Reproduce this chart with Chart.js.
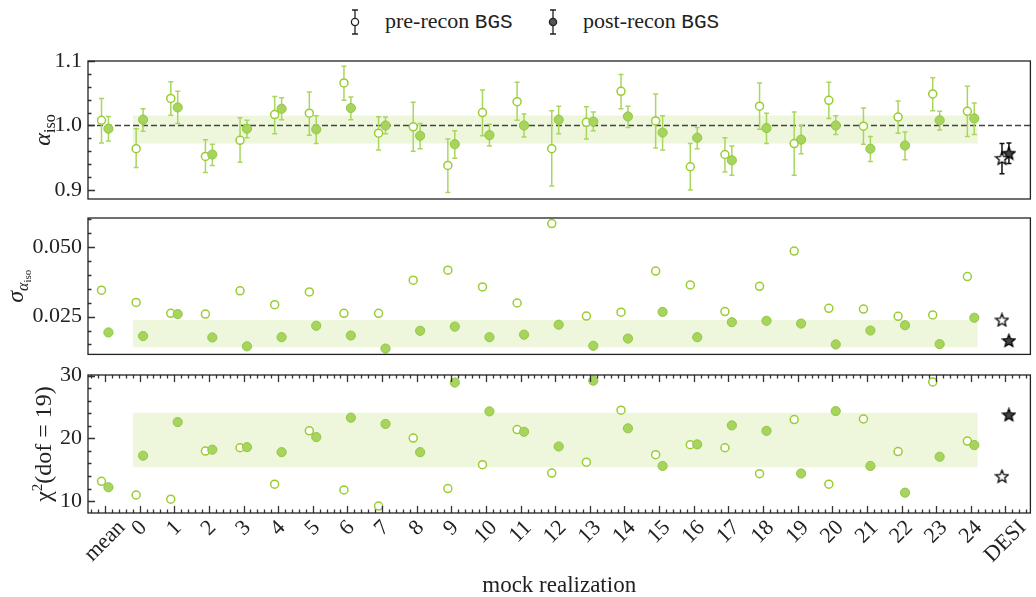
<!DOCTYPE html>
<html>
<head>
<meta charset="utf-8">
<script src="https://cdn.jsdelivr.net/npm/chart.js@4.4.1/dist/chart.umd.min.js"></script>
<style>
body { margin: 0; background: #fff; }
#wrap { position: relative; width: 1036px; height: 597px; overflow: hidden; font-family: "Liberation Serif", serif; color: #222; }
#wrap canvas { position: absolute; left: 0; }
.leg { position: absolute; top: 10px; font-size: 22px; line-height: 1; white-space: nowrap; }
.leg tt { font-family: "Liberation Mono", monospace; font-size: 21px; }
.legm { position: absolute; top: 8px; }
</style>
</head>
<body>
<div id="wrap">
  <svg class="legm" style="left:349px" width="12" height="28">
    <path d="M6 2V26M3 2H9M3 26H9" stroke="#222" stroke-width="1.3" fill="none"/>
    <circle cx="6" cy="14" r="3.6" fill="#fff" stroke="#222" stroke-width="1.3"/>
  </svg>
  <span class="leg" style="left:385px">pre-recon <tt>BGS</tt></span>
  <svg class="legm" style="left:547px" width="12" height="28">
    <path d="M6 2V26M3 2H9M3 26H9" stroke="#222" stroke-width="1.3" fill="none"/>
    <circle cx="6" cy="14" r="3.6" fill="#555" stroke="#222" stroke-width="1.3"/>
  </svg>
  <span class="leg" style="left:583px">post-recon <tt>BGS</tt></span>

  <canvas id="c1" width="1036" height="205" style="top:0px"></canvas>
  <canvas id="c2" width="1036" height="155" style="top:205px"></canvas>
  <canvas id="c3" width="1036" height="237" style="top:360px"></canvas>
</div>

<script>
// categories: mean, 25 mocks, DESI
const cats = ["mean", "0", "1", "2", "3", "4", "5", "6", "7", "8", "9", "10", "11", "12",
    "13", "14", "15", "16", "17", "18", "19", "20", "21", "22", "23", "24", "DESI"];

// alpha_iso (last entry = DESI)
const preAlpha   = [1.008, 0.964, 1.042, 0.952, 0.977, 1.017, 1.019, 1.066, 0.988, 0.998, 0.938, 1.020, 1.037, 0.964,
    1.005, 1.053, 1.007, 0.936, 0.955, 1.030, 0.972, 1.039, 0.999, 1.013, 1.049, 1.022, 0.949];
const preAlphaHi = [1.042, 0.995, 1.068, 0.978, 1.012, 1.045, 1.052, 1.092, 1.0135, 1.036, 0.979, 1.055, 1.067, 1.023,
    1.029, 1.079, 1.049, 0.972, 0.981, 1.066, 1.021, 1.067, 1.027, 1.038, 1.074, 1.061, 0.972];
const preAlphaLo = [0.973, 0.935, 1.016, 0.927, 0.943, 0.987, 0.985, 1.039, 0.962, 0.960, 0.896, 0.984, 1.008, 0.906,
    0.979, 1.026, 0.965, 0.900, 0.928, 0.994, 0.923, 1.011, 0.971, 0.988, 1.023, 0.983, 0.925];

const postAlpha   = [0.995, 1.009, 1.028, 0.955, 0.995, 1.026, 0.994, 1.027, 1.000, 0.984, 0.971, 0.985, 1.000, 1.009,
    1.006, 1.014, 0.989, 0.981, 0.946, 0.996, 0.978, 1.000, 0.964, 0.969, 1.008, 1.011, 0.957];
const postAlphaHi = [1.014, 1.026, 1.053, 0.971, 1.008, 1.043, 1.015, 1.044, 1.013, 1.003, 0.992, 1.002, 1.018, 1.030,
    1.021, 1.030, 1.015, 0.997, 0.968, 1.019, 1.000, 1.015, 0.983, 0.990, 1.022, 1.035, 0.973];
const postAlphaLo = [0.976, 0.991, 1.003, 0.938, 0.981, 1.009, 0.972, 1.009, 0.987, 0.964, 0.949, 0.968, 0.982, 0.987,
    0.992, 0.997, 0.962, 0.964, 0.923, 0.972, 0.956, 0.986, 0.944, 0.947, 0.993, 0.986, 0.941];

// sigma_alpha_iso
const preSigma  = [0.0345, 0.0301, 0.0262, 0.0259, 0.0343, 0.0293, 0.0339, 0.0262, 0.0262, 0.0381, 0.0417, 0.0357, 0.0299,
    0.0585, 0.0252, 0.0266, 0.0414, 0.0364, 0.0268, 0.0359, 0.0486, 0.0280, 0.0277, 0.0251, 0.0256, 0.0394, 0.0238];
const postSigma = [0.0193, 0.0180, 0.0259, 0.0175, 0.0143, 0.0176, 0.0217, 0.0182, 0.0135, 0.0199, 0.0214, 0.0176, 0.0185,
    0.0221, 0.0145, 0.0171, 0.0267, 0.0176, 0.0230, 0.0235, 0.0225, 0.0150, 0.0200, 0.0219, 0.0151, 0.0246, 0.0164];

// chi2 (dof = 19)
const preChi2  = [13.15, 10.97, 10.3, 17.98, 18.5, 12.7, 21.2, 11.77, 9.2, 20.05, 12.0, 15.8, 21.4, 14.47,
    16.2, 24.5, 17.4, 19.0, 18.5, 14.36, 23.0, 12.7, 23.1, 17.9, 29.0, 19.57, 13.95];
const postChi2 = [12.2, 17.23, 22.6, 18.2, 18.6, 17.8, 20.2, 23.3, 22.3, 17.8, 28.9, 24.3, 21.05, 18.7,
    29.2, 21.6, 15.6, 19.04, 22.07, 21.2, 14.4, 24.35, 15.6, 11.34, 17.07, 18.93, 23.76];

// spread of the post-recon mocks (shaded band)
const alphaBand = [0.972, 1.0155];
const sigmaBand = [0.014, 0.0238];
const chi2Band  = [15.4, 24.1];

// axis ticks
const alphaTicks = [0.9, 1.0, 1.1];
const sigmaTicks = [0.025, 0.050];
const chi2Ticks  = [10, 20, 30];


const GREEN = "#9acd32";
const FILL = "#a6d45c";
const BAND = "rgba(154,205,50,0.17)";
const SERIF = "Liberation Serif";
const nMock = cats.length - 1;
const xMin = -0.49, xMax = 26.72;
const bandX = [0.8, 25.2];

function makeStar(fill) {
    const c = document.createElement("canvas");
    c.width = 15; c.height = 15;
    const g = c.getContext("2d");
    g.beginPath();
    for (let k = 0; k < 10; k++) {
        const r = k % 2 ? 2.9 : 6.6;
        const a = -Math.PI / 2 + k * Math.PI / 5;
        g.lineTo(7.5 + r * Math.cos(a), 8 + r * Math.sin(a));
    }
    g.closePath();
    g.fillStyle = fill;
    g.fill();
    g.lineWidth = 1.3;
    g.lineJoin = "miter";
    g.strokeStyle = "#000";
    g.stroke();
    return c;
}
const starOpen = makeStar("#fff");
const starFull = makeStar("#444");

function pts(vals, off, from, to) {
    const out = [];
    for (let i = from; i < to; i++) out.push({ x: i + off, y: vals[i] });
    return out;
}

function bandSets(band) {
    return [
        { type: "line", showLine: true, data: [{ x: bandX[0], y: band[0] }, { x: bandX[1], y: band[0] }],
          borderWidth: 0, pointRadius: 0, fill: false, order: 9 },
        { type: "line", showLine: true, data: [{ x: bandX[0], y: band[1] }, { x: bandX[1], y: band[1] }],
          borderWidth: 0, pointRadius: 0, fill: "-1", backgroundColor: BAND, order: 9 }
    ];
}

function pointSets(pre, post, errs) {
    const sets = [
        { data: pts(pre, -0.1, 0, nMock), pointStyle: "circle", pointRadius: 4,
          backgroundColor: "#fff", borderColor: GREEN, borderWidth: 1.5, order: 2 },
        { data: pts(post, 0.1, 0, nMock), pointStyle: "circle", pointRadius: 4.6,
          backgroundColor: FILL, borderColor: "#93c645", borderWidth: 1, order: 1 },
        { data: pts(pre, -0.1, nMock, nMock + 1), pointStyle: starOpen, order: 0 },
        { data: pts(post, 0.1, nMock, nMock + 1), pointStyle: starFull, order: 0 }
    ];
    if (errs) {
        sets[0].errLo = errs[0].slice(0, nMock); sets[0].errHi = errs[1].slice(0, nMock);
        sets[1].errLo = errs[2].slice(0, nMock); sets[1].errHi = errs[3].slice(0, nMock);
        sets[0].errColor = sets[1].errColor = "#a9d65f";
        sets[2].errLo = errs[0].slice(nMock); sets[2].errHi = errs[1].slice(nMock);
        sets[3].errLo = errs[2].slice(nMock); sets[3].errHi = errs[3].slice(nMock);
        sets[2].errColor = sets[3].errColor = "#111";
    }
    return sets;
}


/* error bars, drawn just under each dataset's markers */
const errorBars = {
    id: "errorBars",
    beforeDatasetDraw(chart, args) {
        const ds = chart.data.datasets[args.index];
        if (!ds.errLo) return;
        const ctx = chart.ctx;
        const ys = chart.scales.y;
        ctx.save();
        ctx.strokeStyle = ds.errColor;
        ctx.lineWidth = 1.5;
        args.meta.data.forEach((p, k) => {
            const y1 = ys.getPixelForValue(ds.errLo[k]);
            const y2 = ys.getPixelForValue(ds.errHi[k]);
            ctx.beginPath();
            ctx.moveTo(p.x, y1); ctx.lineTo(p.x, y2);
            ctx.moveTo(p.x - 2.5, y1); ctx.lineTo(p.x + 2.5, y1);
            ctx.moveTo(p.x - 2.5, y2); ctx.lineTo(p.x + 2.5, y2);
            ctx.stroke();
        });
        ctx.restore();
    }
};


/* matplotlib-like frame: spines, inward ticks, y label, rotated x labels */
const frame = {
    id: "frame",
    afterDraw(chart, args, opts) {
        const ctx = chart.ctx;
        const a = chart.chartArea;
        const ys = chart.scales.y, xs = chart.scales.x;
        ctx.save();
        ctx.strokeStyle = "#333";
        ctx.lineWidth = 1.3;

        // y ticks (left side, pointing in)
        ctx.beginPath();
        opts.yMajor.forEach(v => {
            const y = Math.round(ys.getPixelForValue(v)) + 0.5;
            ctx.moveTo(a.left, y); ctx.lineTo(a.left + 7, y);
        });
        for (let v = opts.yMinorStart; v <= ys.max + 1e-9; v += opts.yMinorStep) {
            if (v < ys.min) continue;
            const y = Math.round(ys.getPixelForValue(v)) + 0.5;
            ctx.moveTo(a.left, y); ctx.lineTo(a.left + 3.5, y);
        }
        // x ticks, top and bottom
        if (opts.xTicks) {
            for (let i = 0; i < cats.length; i++) {
                const x = Math.round(xs.getPixelForValue(i)) + 0.5;
                ctx.moveTo(x, a.top); ctx.lineTo(x, a.top + 7);
                ctx.moveTo(x, a.bottom); ctx.lineTo(x, a.bottom - 7);
            }
            for (let v = -0.4; v < xMax; v += 0.2) {
                if (Math.abs(v - Math.round(v)) < 1e-6) continue;
                const x = Math.round(xs.getPixelForValue(v)) + 0.5;
                ctx.moveTo(x, a.top); ctx.lineTo(x, a.top + 3.5);
                ctx.moveTo(x, a.bottom); ctx.lineTo(x, a.bottom - 3.5);
            }
        }
        ctx.stroke();

        // spines
        ctx.strokeStyle = "#222";
        ctx.strokeRect(a.left, a.top, a.right - a.left, a.bottom - a.top);

        // y label with sub/superscripts, rotated
        ctx.fillStyle = "#222";
        let w = 0;
        opts.label.forEach(p => { ctx.font = p.font; w += ctx.measureText(p.t).width; });
        ctx.translate(opts.labelX, (a.top + a.bottom) / 2);
        ctx.rotate(-Math.PI / 2);
        ctx.textBaseline = "alphabetic";
        let cx = -w / 2;
        opts.label.forEach(p => {
            ctx.font = p.font;
            ctx.fillText(p.t, cx, p.dy || 0);
            cx += ctx.measureText(p.t).width;
        });
        ctx.restore();

        // x tick labels: rotated 45 deg, box centred under the tick
        if (opts.xTicks) {
            ctx.save();
            ctx.fillStyle = "#222";
            ctx.font = "22px " + SERIF;
            ctx.textAlign = "center";
            ctx.textBaseline = "middle";
            cats.forEach((c, i) => {
                const tw = ctx.measureText(c).width;
                const side = (tw + 15) * Math.SQRT1_2;
                const x = xs.getPixelForValue(i);
                const y = a.bottom + 6 + side / 2;
                ctx.save();
                ctx.translate(x, y);
                ctx.rotate(-Math.PI / 4);
                ctx.fillText(c, 0, 0);
                ctx.restore();
            });
            ctx.restore();
        }
    }
};


function makeChart(id, datasets, yOpts, frameOpts, padding, showX) {
    return new Chart(document.getElementById(id), {
        type: "scatter",
        data: { datasets: datasets },
        plugins: [errorBars, frame],
        options: {
            responsive: false,
            animation: false,
            events: [],
            layout: { padding: padding },
            plugins: {
                legend: { display: false },
                tooltip: { enabled: false },
                frame: frameOpts
            },
            scales: {
                x: {
                    type: "linear",
                    min: xMin,
                    max: xMax,
                    display: showX,
                    grid: { display: false, drawTicks: false },
                    border: { display: false },
                    ticks: { display: false },
                    title: {
                        display: showX,
                        text: "mock realization",
                        font: { family: SERIF, size: 23, lineHeight: 1 },
                        color: "#222",
                        padding: 0
                    },
                    afterFit: s => {
                        s.height = showX ? 84 : 0;
                        s.paddingLeft = s.paddingRight = 0;
                    }
                },
                y: {
                    type: "linear",
                    min: yOpts.min,
                    max: yOpts.max,
                    grid: { display: false, drawTicks: false },
                    border: { display: false },
                    afterBuildTicks: s => { s.ticks = yOpts.ticks.map(v => ({ value: v })); },
                    afterFit: s => {
                        s.width = 88;
                        s.paddingTop = s.paddingBottom = 0;
                    },
                    ticks: {
                        padding: 6,
                        color: "#222",
                        font: { family: SERIF, size: 22 },
                        callback: v => v.toFixed(yOpts.digits)
                    }
                }
            }
        }
    });
}

const dashLine = {
    type: "line", showLine: true,
    data: [{ x: xMin, y: 1.0 }, { x: xMax, y: 1.0 }],
    borderColor: "#444", borderWidth: 1.5, borderDash: [6, 3],
    pointRadius: 0, fill: false, order: 8
};

makeChart("c1",
    [...bandSets(alphaBand), dashLine,
     ...pointSets(preAlpha, postAlpha, [preAlphaLo, preAlphaHi, postAlphaLo, postAlphaHi])],
    { min: 0.886, max: 1.1, ticks: alphaTicks, digits: 1 },
    { yMajor: alphaTicks, yMinorStart: 0.88, yMinorStep: 0.02, xTicks: false, labelX: 50,
      label: [{ t: "α", font: "italic 24px " + SERIF }, { t: "iso", font: "16px " + SERIF, dy: 5 }] },
    { top: 61, bottom: 6, left: 0, right: 1 }, false);

makeChart("c2",
    [...bandSets(sigmaBand), ...pointSets(preSigma, postSigma, null)],
    { min: 0.0114, max: 0.0605, ticks: sigmaTicks, digits: 3 },
    { yMajor: sigmaTicks, yMinorStart: 0.015, yMinorStep: 0.005, xTicks: false, labelX: 23,
      label: [{ t: "σ", font: "italic 24px " + SERIF }, { t: "α", font: "italic 16px " + SERIF, dy: 5 },
              { t: "iso", font: "11px " + SERIF, dy: 8 }] },
    { top: 13, bottom: 4, left: 0, right: 1 }, false);

makeChart("c3",
    [...bandSets(chi2Band), ...pointSets(preChi2, postChi2, null)],
    { min: 8.1, max: 30.1, ticks: chi2Ticks, digits: 0 },
    { yMajor: chi2Ticks, yMinorStart: 10, yMinorStep: 2, xTicks: true, labelX: 51,
      label: [{ t: "χ", font: "24px " + SERIF }, { t: "2", font: "15px " + SERIF, dy: -9 },
              { t: "(dof = 19)", font: "24px " + SERIF }] },
    { top: 15, bottom: 0, left: 0, right: 1 }, true);
</script>
</body>
</html>
